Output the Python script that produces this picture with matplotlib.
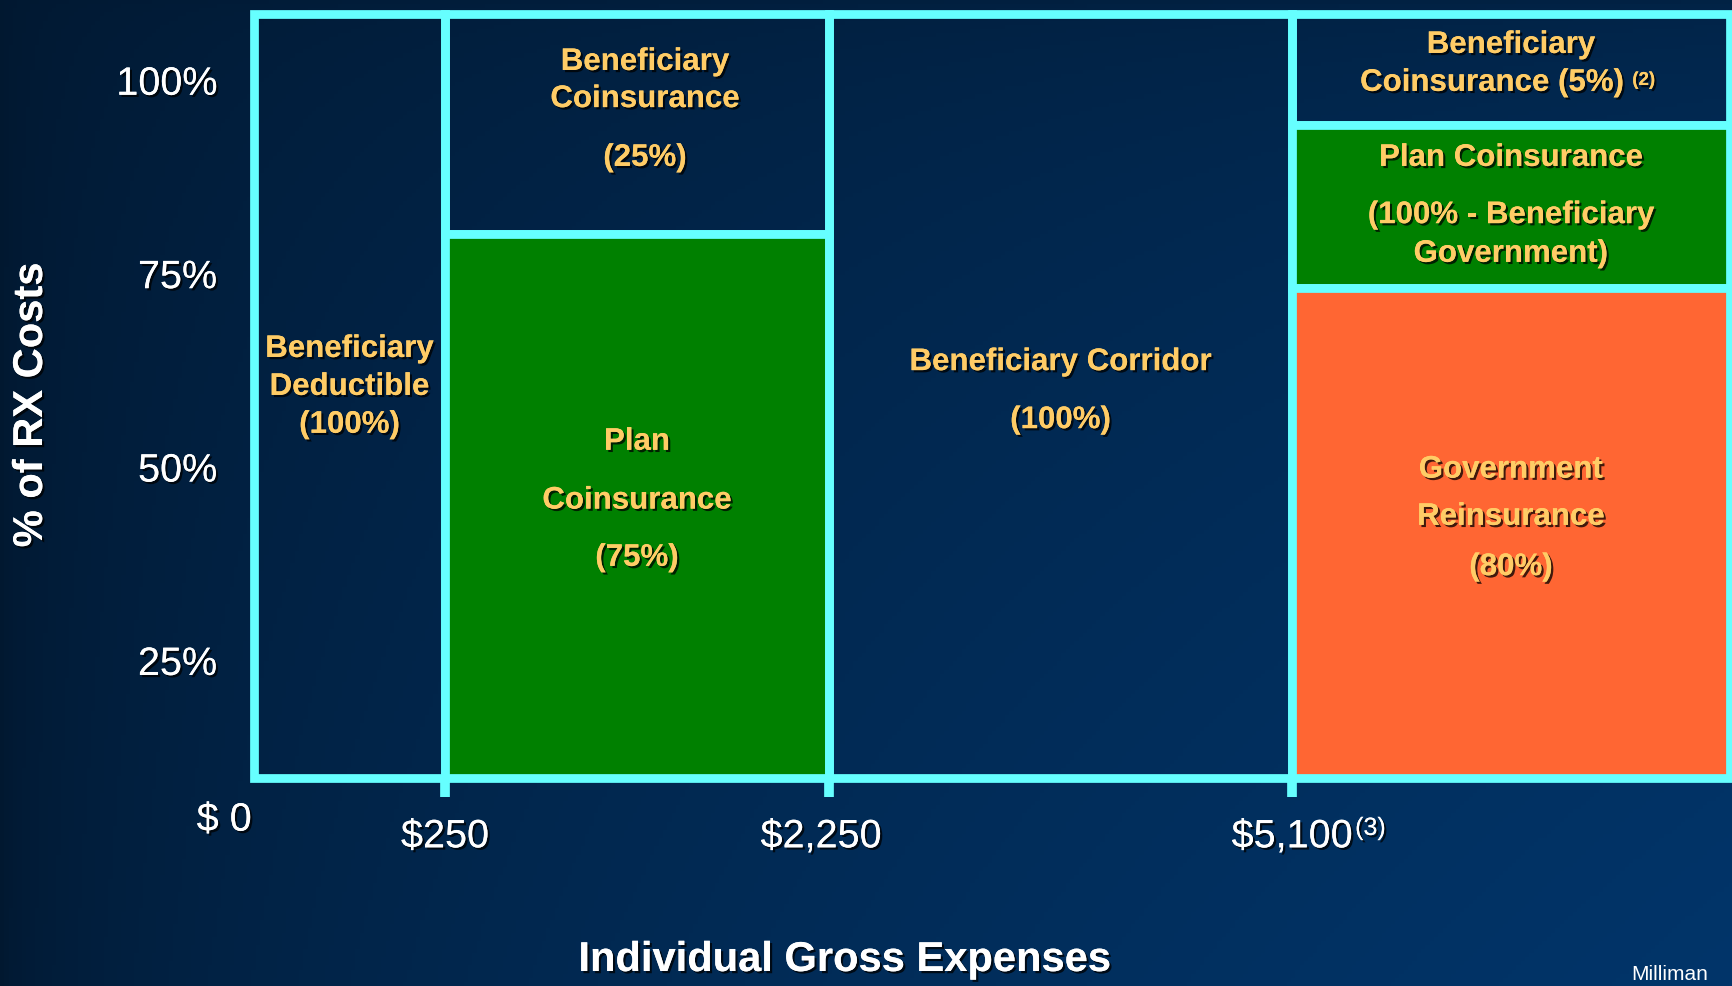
import numpy as np
import matplotlib
matplotlib.use("Agg")
import matplotlib.pyplot as plt
from matplotlib.patches import Rectangle
import matplotlib.patheffects as pe

# ---------------- data ----------------
thresholds = ["$ 0", "$250", "$2,250", "$5,100"]
threshold_note = "(3)"
y_ticks = [25, 50, 75, 100]
y_tick_labels = ["25%", "50%", "75%", "100%"]
x_label = "Individual Gross Expenses"
y_label = "% of RX Costs"
source = "Milliman"

# boxes of the benefit design: column index (gap between thresholds), share range (% of axis), payer
box_column = [0, 1, 1, 2, 3, 3, 3]
box_bottom = [9.7, 80.0, 9.7, 9.7, 94.2, 73.1, 9.7]
box_top = [108.5, 108.5, 80.0, 108.5, 108.5, 94.2, 73.1]
box_payer = ["beneficiary", "beneficiary", "plan", "beneficiary", "beneficiary", "plan", "government"]
box_lines = [
    ["Beneficiary", "Deductible", "(100%)"],
    ["Beneficiary", "Coinsurance", "(25%)"],
    ["Plan", "Coinsurance", "(75%)"],
    ["Beneficiary Corridor", "(100%)"],
    ["Beneficiary", "Coinsurance (5%)"],
    ["Plan Coinsurance", "(100% - Beneficiary", "Government)"],
    ["Government", "Reinsurance", "(80%)"],
]
box_note = [None, None, None, None, "(2)", None, None]

# ---------------- layout / style ----------------
W, H = 1733, 986
col_edges_px = [254, 445, 829, 1292, 1730]   # horizontal layout of the columns (figure pixels)
y_lim = (9.74, 108.5)
ax_top_px, ax_bot_px = 14, 778
line_y = [
    [65.2, 60.3, 55.4],
    [102.3, 97.5, 89.9],
    [53.2, 45.6, 38.2],
    [63.5, 56.0],
    [104.5, 99.6],
    [89.9, 82.5, 77.5],
    [49.6, 43.5, 37.0],
]
line_dx = [
    [0, 0, 0],
    [8, 8, 8],
    [0, 0, 0],
    [0, 0],
    [0, -19],
    [0, 0, 0],
    [0, 0, 0],
]
threshold_dx = [0, 0, -8, 0]
payer_color = {"beneficiary": "none", "plan": "#008000", "government": "#ff6633"}
CYAN = "#66ffff"
YELLOW = "#ffcc66"
FONT = "Liberation Sans"
plt.rcParams["font.family"] = [FONT, "DejaVu Sans"]

shadow = [pe.withSimplePatchShadow(offset=(1.6, -1.6), shadow_rgbFace="black", alpha=0.75), pe.Normal()]

fig = plt.figure(figsize=(W / 100, H / 100), dpi=100)

# background gradient
bg = fig.add_axes([0, 0, 1, 1], zorder=0)
gx = np.linspace(0, 1, 400)
gy = np.linspace(0, 1, 240)
X, Y = np.meshgrid(gx, gy)
f = np.sqrt(X) * (0.35 + 0.65 * np.sqrt(Y))
dark = np.array([1, 24, 48]) / 255
light = np.array([2, 53, 106]) / 255
img = dark[None, None, :] + f[..., None] * (light - dark)[None, None, :]
bg.imshow(img, aspect="auto", extent=[0, 1, 0, 1], origin="upper")
bg.set_axis_off()

left = col_edges_px[0] / W
right = col_edges_px[-1] / W
bottom = 1 - ax_bot_px / H
top = 1 - ax_top_px / H
ax = fig.add_axes([left, bottom, right - left, top - bottom], zorder=1)
ax.set_facecolor("none")
ax.set_xlim(col_edges_px[0], col_edges_px[-1])
ax.set_ylim(*y_lim)
for s in ax.spines.values():
    s.set_visible(False)

# boxes
for i in range(len(box_column)):
    c = box_column[i]
    x0, x1 = col_edges_px[c], col_edges_px[c + 1]
    rect = Rectangle((x0, box_bottom[i]), x1 - x0, box_top[i] - box_bottom[i],
                     facecolor=payer_color[box_payer[i]], edgecolor=CYAN,
                     linewidth=6.3, clip_on=False, zorder=2, joinstyle="miter")
    ax.add_patch(rect)
    xc = (x0 + x1) / 2
    last = None
    for txt, yy, dx in zip(box_lines[i], line_y[i], line_dx[i]):
        last = ax.text(xc + dx, yy, txt, ha="center", va="center", color=YELLOW,
                       fontsize=22.5, fontweight="bold", zorder=5, path_effects=shadow)
    if box_note[i]:
        ax.annotate(box_note[i], xy=(1, 1), xycoords=last, xytext=(6, -3),
                    textcoords="offset points", ha="left", va="top",
                    color=YELLOW, fontsize=13.5, fontweight="bold", zorder=5,
                    path_effects=shadow)

# x ticks (cyan stubs) at the thresholds
ax.set_xticks(col_edges_px[1:4])
ax.set_xticklabels([])
ax.tick_params(axis="x", length=14, width=7, color=CYAN, direction="out")

# x threshold labels
ax.annotate(thresholds[0], xy=(col_edges_px[0], y_lim[0]), xycoords="data",
            xytext=(-21.5, -30), textcoords="offset points", ha="center", va="center",
            color="white", fontsize=28.5, path_effects=shadow)
lab = None
for k in range(1, 4):
    lab = ax.annotate(thresholds[k], xy=(col_edges_px[k] + threshold_dx[k], y_lim[0]),
                      xycoords="data", xytext=(0, -42), textcoords="offset points",
                      ha="center", va="center", color="white", fontsize=28.5,
                      path_effects=shadow)
ax.annotate(threshold_note, xy=(1, 1), xycoords=lab, xytext=(2, 1),
            textcoords="offset points", ha="left", va="top",
            color="white", fontsize=18, path_effects=shadow)

# y ticks
ax.set_yticks(y_ticks)
ax.set_yticklabels(y_tick_labels)
ax.tick_params(axis="y", length=0, pad=26.5, labelsize=28.5, labelcolor="white")
for t in ax.get_yticklabels():
    t.set_path_effects(shadow)

# axis titles
fig.text(31 / W, 1 - 405 / H, y_label, rotation=90, ha="center", va="center",
         color="white", fontsize=30, fontweight="bold", path_effects=shadow)
fig.text(845 / W, 1 - 960 / H, x_label, ha="center", va="center",
         color="white", fontsize=30, fontweight="bold", path_effects=shadow)
fig.text(1670 / W, 1 - 975 / H, source, ha="center", va="center",
         color="white", fontsize=15)

fig.savefig("out.png", dpi=100)
